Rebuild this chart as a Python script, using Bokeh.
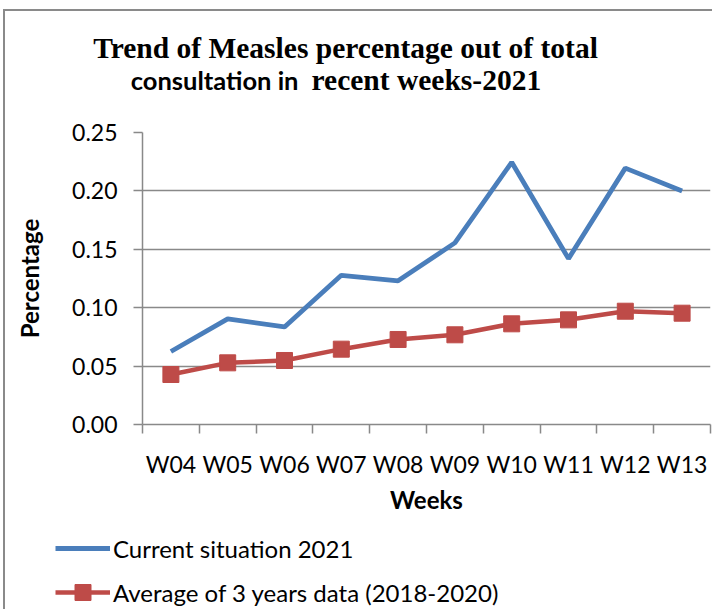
import numpy as np
from bokeh.plotting import figure
from bokeh.layouts import column
from bokeh.models import (FixedTicker, NumeralTickFormatter, Legend, Label,
                          LegendItem, Range1d)
from bokeh.embed import file_html
from bokeh.resources import INLINE

weeks = ["W04", "W05", "W06", "W07", "W08", "W09", "W10", "W11", "W12", "W13"]
current_2021 = [0.0625, 0.0905, 0.0835, 0.1277, 0.1230, 0.1555, 0.2245, 0.1420, 0.2195, 0.2000]
avg_2018_2020 = [0.0428, 0.0528, 0.0548, 0.0645, 0.0728, 0.0768, 0.0862, 0.0896, 0.0970, 0.0953]
y_ticks = [0.0, 0.05, 0.10, 0.15, 0.20, 0.25]

series_names = ["Current situation 2021", "Average of 3 years data (2018-2020)"]
title_line1 = "Trend of Measles percentage out of total"
title_line2a = "consultation in"
title_line2b = "recent weeks-2021"

BLUE = "#4A7EBB"
RED = "#BE4B48"
GRID = "#898989"
FRAME = "#8a8a8a"
SANS = "Lato"
SERIF = "Liberation Serif"
W = 707

n = len(weeks)
xs = np.arange(n) + 0.5


def blank(height):
    f = figure(width=W, height=height, output_backend="svg", toolbar_location=None,
               x_range=Range1d(0, 1), y_range=Range1d(0, 1),
               x_axis_type=None, y_axis_type=None, min_border=0)
    f.frame_align = False
    f.outline_line_color = None
    f.grid.visible = False
    f.background_fill_color = "white"
    f.border_fill_color = "white"
    return f


# ---- title strip ----
tf = blank(106)
tf.add_layout(Label(x=340, y=70, x_units="screen", y_units="screen", text=title_line1,
                    text_align="center", text_baseline="alphabetic",
                    text_font=SERIF, text_font_style="bold", text_font_size="29.5px",
                    text_color="black"))
tf.add_layout(Label(x=293, y=38, x_units="screen", y_units="screen", text=title_line2a,
                    text_align="right", text_baseline="alphabetic",
                    text_font=SANS, text_font_style="bold", text_font_size="25.5px",
                    text_color="black"))
tf.add_layout(Label(x=306, y=38, x_units="screen", y_units="screen", text=title_line2b,
                    text_align="left", text_baseline="alphabetic",
                    text_font=SERIF, text_font_style="bold", text_font_size="29.5px",
                    text_color="black"))

# ---- main chart ----
p = figure(width=W, height=403, output_backend="svg", toolbar_location=None,
           x_range=Range1d(0, n), y_range=Range1d(0, 0.25),
           min_border_left=137, min_border_right=2, min_border_top=15,
           min_border_bottom=96)
p.outline_line_color = None
p.background_fill_color = "white"
p.border_fill_color = "white"

p.xaxis.ticker = FixedTicker(ticks=list(xs), minor_ticks=list(range(n + 1)))
p.xaxis.major_label_overrides = {float(x): w for x, w in zip(xs, weeks)}
p.xaxis.major_tick_out = 0
p.xaxis.major_tick_in = 0
p.xaxis.minor_tick_out = 9
p.xaxis.minor_tick_in = 0
p.xaxis.minor_tick_line_color = GRID
p.xaxis.minor_tick_line_width = 1.5
p.xaxis.axis_label = "Weeks"
p.xaxis.major_label_standoff = 16
p.xaxis.axis_label_standoff = 4

p.yaxis.ticker = FixedTicker(ticks=y_ticks)
p.yaxis.formatter = NumeralTickFormatter(format="0.00")
p.yaxis.major_tick_out = 9
p.yaxis.major_tick_in = 0
p.yaxis.minor_tick_out = 0
p.yaxis.minor_tick_in = 0
p.yaxis.axis_label = "Percentage"
p.yaxis.major_label_standoff = 16
p.yaxis.axis_label_standoff = 25

for ax in (p.xaxis[0], p.yaxis[0]):
    ax.axis_line_color = GRID
    ax.axis_line_width = 1.5
    ax.major_tick_line_color = GRID
    ax.major_tick_line_width = 1.5
    ax.major_label_text_font = SANS
    ax.major_label_text_font_size = "23px"
    ax.major_label_text_color = "black"
    ax.axis_label_text_font = SANS
    ax.axis_label_text_font_size = "24px"
    ax.axis_label_text_font_style = "bold"
    ax.axis_label_text_color = "black"

p.xgrid.grid_line_color = None
p.ygrid.grid_line_color = GRID
p.ygrid.grid_line_width = 1.5
p.ygrid.ticker = FixedTicker(ticks=y_ticks)

p.line(xs, current_2021, line_color=BLUE, line_width=4.8)
p.line(xs, avg_2018_2020, line_color=RED, line_width=4.5)
p.scatter(xs, avg_2018_2020, marker="square", size=16, fill_color=RED, line_color=RED)

# ---- legend strip (proxy renderers carry no visible data) ----
lf = blank(89)
proxy = [np.nan]
k1 = lf.line(proxy, proxy, line_color=BLUE, line_width=4.8)
k2 = lf.line(proxy, proxy, line_color=RED, line_width=4.5)
k3 = lf.scatter(proxy, proxy, marker="square", fill_color=RED, line_color=RED)
legend = Legend(items=[LegendItem(label=series_names[0], renderers=[k1]),
                       LegendItem(label=series_names[1], renderers=[k2, k3])],
                location=(50, -3), orientation="vertical",
                glyph_width=55, glyph_height=40, spacing=4, label_standoff=3,
                label_height=40, padding=0, margin=0,
                border_line_color=None, background_fill_alpha=0,
                label_text_font=SANS, label_text_font_size="24px",
                label_text_color="black")
lf.add_layout(legend, "center")

layout = column(tf, p, lf, spacing=0,
                styles={"border-left": f"2px solid {FRAME}",
                        "border-top": f"2px solid {FRAME}",
                        "margin-left": "3px", "margin-top": "9px"})

open("out.html", "w").write(file_html(layout, INLINE))
